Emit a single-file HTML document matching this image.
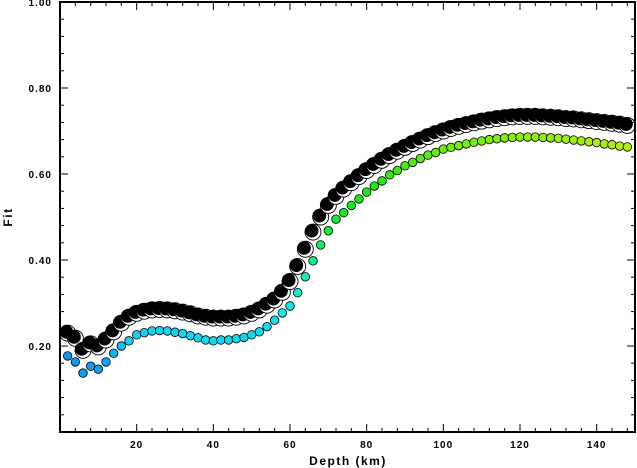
<!DOCTYPE html>
<html><head><meta charset="utf-8"><style>
html,body{margin:0;padding:0;background:#fff}
svg{display:block;font-family:"Liberation Sans",sans-serif}
</style></head><body>
<svg id="chart" width="637" height="468" viewBox="0 0 637 468" xmlns="http://www.w3.org/2000/svg">
<g id="marks"></g>
<g id="axes"></g>
<text x="348" y="465" text-anchor="middle" font-size="12" font-weight="bold" letter-spacing="1.5">Depth (km)</text>
<text x="12" y="217" text-anchor="middle" font-size="12" font-weight="bold" letter-spacing="1.5" transform="rotate(-90 12 217)">Fit</text>
</svg>
<script>
const depths = [];
for (let d = 2; d <= 148; d += 2) depths.push(d);
const fitSmall = [0.177,0.163,0.137,0.153,0.146,0.163,0.183,0.200,0.212,0.226,0.231,0.235,0.236,0.235,0.232,0.229,0.224,0.219,0.214,0.212,0.214,0.214,0.217,0.220,0.226,0.233,0.245,0.260,0.277,0.293,0.324,0.361,0.398,0.435,0.468,0.495,0.510,0.527,0.542,0.558,0.572,0.584,0.598,0.608,0.619,0.627,0.636,0.644,0.650,0.658,0.662,0.666,0.670,0.674,0.677,0.680,0.682,0.684,0.685,0.686,0.686,0.686,0.685,0.684,0.683,0.681,0.679,0.677,0.675,0.673,0.670,0.668,0.665,0.663];
const fitBest = [0.230,0.218,0.190,0.205,0.198,0.214,0.233,0.253,0.267,0.276,0.281,0.284,0.285,0.284,0.282,0.279,0.275,0.270,0.267,0.265,0.265,0.265,0.267,0.270,0.276,0.284,0.295,0.307,0.325,0.350,0.385,0.425,0.465,0.500,0.527,0.548,0.565,0.580,0.594,0.608,0.620,0.632,0.643,0.653,0.662,0.671,0.679,0.687,0.694,0.700,0.706,0.711,0.715,0.719,0.723,0.726,0.729,0.731,0.733,0.734,0.734,0.734,0.733,0.732,0.731,0.729,0.728,0.726,0.724,0.722,0.720,0.718,0.716,0.713];
const xTicks = [20,40,60,80,100,120,140];
const xTickLabels = ["20","40","60","80","100","120","140"];
const yTicks = [0.2,0.4,0.6,0.8,1.0];
const yTickLabels = ["0.20","0.40","0.60","0.80","1.00"];

const X0=60, X1=635, Y0=432, Y1=2;
const xs = d => X0 + (d/150)*(X1-X0);
const ys = v => Y0 - v*(Y0-Y1);
const NS="http://www.w3.org/2000/svg";
function mk(tag, parent){const e=document.createElementNS(NS,tag);parent.appendChild(e);return e;}
const marks=document.getElementById('marks'), axes=document.getElementById('axes');

function hueFor(d){
  const pts=[[2,205],[12,200],[18,187],[56,185],[64,165],[70,130],[100,95],[148,75]];
  for(let i=0;i<pts.length-1;i++){const a=pts[i],b=pts[i+1];if(d<=b[0]){return a[1]+(b[1]-a[1])*(d-a[0])/(b[0]-a[0]);}}
  return 75;
}
depths.forEach((d,i)=>{
  const c=mk('circle',marks);
  
  
  c.setAttribute('cx',xs(d));c.setAttribute('cy',ys(fitSmall[i]));c.setAttribute('r',4.3);
  c.setAttribute('fill','hsl('+hueFor(d)+',85%,50%)');c.setAttribute('stroke','#000');c.setAttribute('stroke-width','0.8');
});
depths.forEach((d,i)=>{
  const g=mk('g',marks);
  
  
  const cx=xs(d), cy=ys(fitBest[i]);
  const o=mk('circle',g);o.setAttribute('cx',cx);o.setAttribute('cy',cy);o.setAttribute('r',8);o.setAttribute('fill','#fff');o.setAttribute('stroke','#000');o.setAttribute('stroke-width','0.9');
  const b=mk('circle',g);b.setAttribute('cx',cx-1.3);b.setAttribute('cy',cy-1.3);b.setAttribute('r',6.8);b.setAttribute('fill','#000');
});

// frame
const f=mk('rect',axes);
f.setAttribute('x',X0);f.setAttribute('y',Y1);f.setAttribute('width',X1-X0);f.setAttribute('height',Y0-Y1);f.setAttribute('fill','none');f.setAttribute('stroke','#000');f.setAttribute('stroke-width','2');
function line(x1,y1,x2,y2,w){const l=mk('line',axes);l.setAttribute('x1',x1);l.setAttribute('y1',y1);l.setAttribute('x2',x2);l.setAttribute('y2',y2);l.setAttribute('stroke','#000');l.setAttribute('stroke-width',w||1);return l;}
for(let d=4;d<150;d+=4){const x=xs(d);const L=(d%20===0)?8:4;line(x,Y0,x,Y0-L);line(x,Y1,x,Y1+L);}
for(let k=1;k<25;k++){const v=k*0.04;const y=ys(v);const L=(k%5===0)?8:4;line(X0,y,X0+L,y);line(X1,y,X1-L,y);}
xTicks.forEach((d,i)=>{const t=mk('text',axes);


t.setAttribute('x',xs(d));t.setAttribute('y',448);t.setAttribute('text-anchor','middle');t.setAttribute('font-size','10');t.setAttribute('font-weight','bold');t.setAttribute('letter-spacing','1');t.textContent=xTickLabels[i];});
yTicks.forEach((v,i)=>{const t=mk('text',axes);


t.setAttribute('x',52);t.setAttribute('y',ys(v)+4);t.setAttribute('text-anchor','end');t.setAttribute('font-size','10');t.setAttribute('font-weight','bold');t.setAttribute('letter-spacing','1');t.textContent=yTickLabels[i];});
</script>
</body></html>
